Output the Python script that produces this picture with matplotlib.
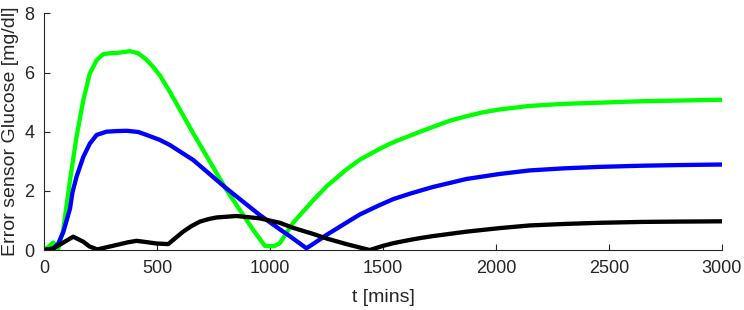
import matplotlib
matplotlib.use("Agg")
import matplotlib.pyplot as plt

# values (t in mins, error in mg/dl)
t_green = [0, 20, 40, 55, 62, 84, 114, 143, 173, 202, 232, 261, 290, 320, 350, 379,
           416, 450, 482, 512, 556, 660, 807, 925, 977, 1006, 1021, 1043, 1102,
           1192, 1250, 1338, 1397, 1485, 1545, 1618, 1662, 1721, 1800, 1869, 1940,
           2016, 2149, 2300, 2459, 2650, 2800, 3000]
e_green = [0, 0.12, 0.25, 0.15, 0.05, 0.68, 2.36, 3.83, 5.07, 5.97, 6.42, 6.62, 6.65, 6.66, 6.69, 6.72,
           6.65, 6.45, 6.19, 5.9, 5.35, 3.94, 2.03, 0.68, 0.14, 0.13, 0.14, 0.23, 0.92,
           1.69, 2.15, 2.72, 3.05, 3.42, 3.64, 3.86, 3.99, 4.16, 4.38, 4.52, 4.65,
           4.75, 4.87, 4.94, 4.98, 5.03, 5.05, 5.08]

t_blue = [0, 40, 62, 84, 114, 125, 143, 173, 202, 232, 276, 320, 365, 416, 453, 512,
          556, 660, 807, 955, 1043, 1087, 1130, 1161, 1190, 1250, 1320, 1397, 1480,
          1545, 1618, 1662, 1721, 1869, 2016, 2149, 2300, 2459, 2650, 2800, 3000]
e_blue = [0, 0.05, 0.22, 0.6, 1.4, 1.95, 2.48, 3.15, 3.6, 3.89, 4.0, 4.02, 4.03, 3.99, 3.89, 3.72,
          3.55, 3.04, 2.08, 1.18, 0.7, 0.47, 0.23, 0.06, 0.2, 0.51, 0.84, 1.2, 1.5,
          1.72, 1.9, 2.0, 2.13, 2.4, 2.57, 2.69, 2.76, 2.81, 2.85, 2.87, 2.89]

t_black = [0, 40, 84, 128, 173, 200, 235, 280, 320, 370, 409, 450, 497, 549, 580, 615,
           650, 689, 730, 763, 851, 955, 1043, 1102, 1192, 1250, 1338, 1441, 1500,
           1545, 1618, 1662, 1721, 1869, 2016, 2149, 2300, 2459, 2650, 2800, 3000]
e_black = [0, 0.05, 0.25, 0.45, 0.28, 0.12, 0.02, 0.1, 0.17, 0.26, 0.31, 0.27, 0.22, 0.2, 0.4, 0.62,
           0.8, 0.96, 1.05, 1.10, 1.15, 1.07, 0.92, 0.75, 0.54, 0.39, 0.2, 0.0, 0.14,
           0.23, 0.34, 0.40, 0.47, 0.62, 0.74, 0.83, 0.88, 0.92, 0.95, 0.96, 0.97]

plt.rcParams['font.family'] = ['Liberation Sans', 'DejaVu Sans']
axcol = '#262626'

fig = plt.figure(figsize=(7.44, 3.10), dpi=100)
ax = fig.add_axes([0.0595, 0.1935, 0.9105, 0.7635])

ax.plot(t_green, e_green, color=(0, 1, 0), lw=3.1, solid_joinstyle='round')
ax.plot(t_blue, e_blue, color=(0, 0, 1), lw=3.1, solid_joinstyle='round')
ax.plot(t_black, e_black, color='black', lw=3.1, solid_joinstyle='round')

ax.set_xlim(0, 3000)
ax.set_ylim(0, 8)
ax.set_xticks([0, 500, 1000, 1500, 2000, 2500, 3000])
ax.set_yticks([0, 2, 4, 6, 8])

for side in ['top', 'right']:
    ax.spines[side].set_visible(False)
for side in ['left', 'bottom']:
    ax.spines[side].set_color(axcol)
    ax.spines[side].set_linewidth(0.8)
ax.tick_params(direction='in', length=4, width=0.8, colors=axcol, labelsize=13, pad=7)

ax.set_xlabel('t [mins]', fontsize=14, color=axcol, labelpad=9)
ax.set_ylabel('Error sensor Glucose [mg/dl]', fontsize=14, color=axcol, labelpad=4)

fig.savefig('out.png', dpi=100)
